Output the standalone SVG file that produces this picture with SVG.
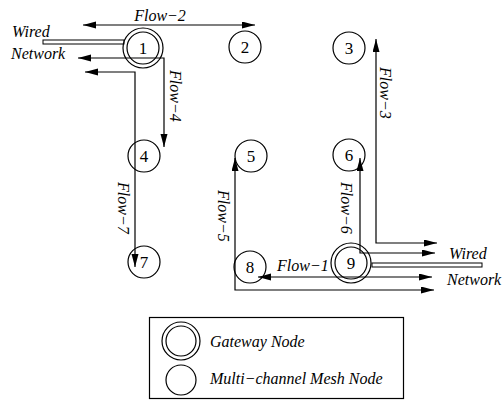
<svg xmlns="http://www.w3.org/2000/svg" width="503" height="409" viewBox="0 0 503 409">
<style>
.c{fill:none;stroke:#000;stroke-width:1.2}
.n{font-family:"Liberation Serif",serif;font-size:17px;text-anchor:middle;fill:#000}
.l{font-family:"Liberation Serif",serif;font-style:italic;font-size:16px;fill:#000}
.e{fill:none;stroke:#000;stroke-width:1.2}
.w{fill:#fff;stroke:#000;stroke-width:1}
</style>
<defs>
<marker id="ah" markerUnits="userSpaceOnUse" markerWidth="14" markerHeight="8" refX="13" refY="3.5" orient="auto-start-reverse">
<path d="M0,0 L13,3.5 L0,7 z" fill="#000"/>
</marker>
</defs>
<rect width="503" height="409" fill="#fff"/>
<g id="wired1"><rect class="w" x="43" y="40" width="81" height="4"/>
<text class="l" x="12" y="37">Wired</text><text class="l" x="11" y="59">Network</text></g>
<g id="wired9"><rect class="w" x="372" y="263" width="110" height="4"/>
<text class="l" x="449" y="259">Wired</text><text class="l" x="447" y="285">Network</text></g>
<g id="node1"><circle class="c" cx="143" cy="48" r="20"/><circle class="c" cx="143" cy="48" r="16"/><text class="n" x="143" y="54">1</text></g>
<g id="node2"><circle class="c" cx="245" cy="47" r="16"/><text class="n" x="245" y="53">2</text></g>
<g id="node3"><circle class="c" cx="349" cy="48" r="16"/><text class="n" x="349" y="54">3</text></g>
<g id="node4"><circle class="c" cx="144" cy="156" r="16"/><text class="n" x="144" y="162">4</text></g>
<g id="node5"><circle class="c" cx="251" cy="156" r="16"/><text class="n" x="251" y="162">5</text></g>
<g id="node6"><circle class="c" cx="349" cy="155" r="16"/><text class="n" x="349" y="161">6</text></g>
<g id="node7"><circle class="c" cx="144" cy="262" r="16"/><text class="n" x="144" y="268">7</text></g>
<g id="node8"><circle class="c" cx="250" cy="267" r="16"/><text class="n" x="250" y="273">8</text></g>
<g id="node9"><circle class="c" cx="351" cy="263" r="20"/><circle class="c" cx="351" cy="263" r="16"/><text class="n" x="351" y="269">9</text></g>
<g id="connectors">
<path class="e" d="M83,25 H255" marker-start="url(#ah)" marker-end="url(#ah)"/>
<path class="e" d="M78,58 H164 V147" marker-start="url(#ah)" marker-end="url(#ah)"/>
<path class="e" d="M85,72 H135 V267" marker-start="url(#ah)" marker-end="url(#ah)"/>
<path class="e" d="M235,158 V290 H434" marker-start="url(#ah)" marker-end="url(#ah)"/>
<path class="e" d="M258,277 H432" marker-start="url(#ah)" marker-end="url(#ah)"/>
<path class="e" d="M360,158 V253 H435" marker-start="url(#ah)" marker-end="url(#ah)"/>
<path class="e" d="M376,39 V243 H437" marker-start="url(#ah)" marker-end="url(#ah)"/>
<text class="l" x="160" y="21" text-anchor="middle">Flow−2</text>
<text class="l" transform="translate(170,70) rotate(90)">Flow−4</text>
<text class="l" transform="translate(118,182) rotate(90)">Flow−7</text>
<text class="l" transform="translate(218,190) rotate(90)">Flow−5</text>
<text class="l" transform="translate(341,182) rotate(90)">Flow−6</text>
<text class="l" transform="translate(380,67) rotate(90)">Flow−3</text>
<text class="l" x="277" y="271">Flow−1</text>
</g>
<g id="legend">
<rect x="149.5" y="317.5" width="254" height="81" fill="none" stroke="#000" stroke-width="1.2"/>
<circle class="c" cx="181" cy="341" r="19"/><circle class="c" cx="181" cy="341" r="15"/>
<circle class="c" cx="181" cy="380" r="15"/>
<text class="l" x="210" y="347">Gateway Node</text>
<text class="l" x="210" y="384">Multi−channel Mesh Node</text>
</g>
</svg>
